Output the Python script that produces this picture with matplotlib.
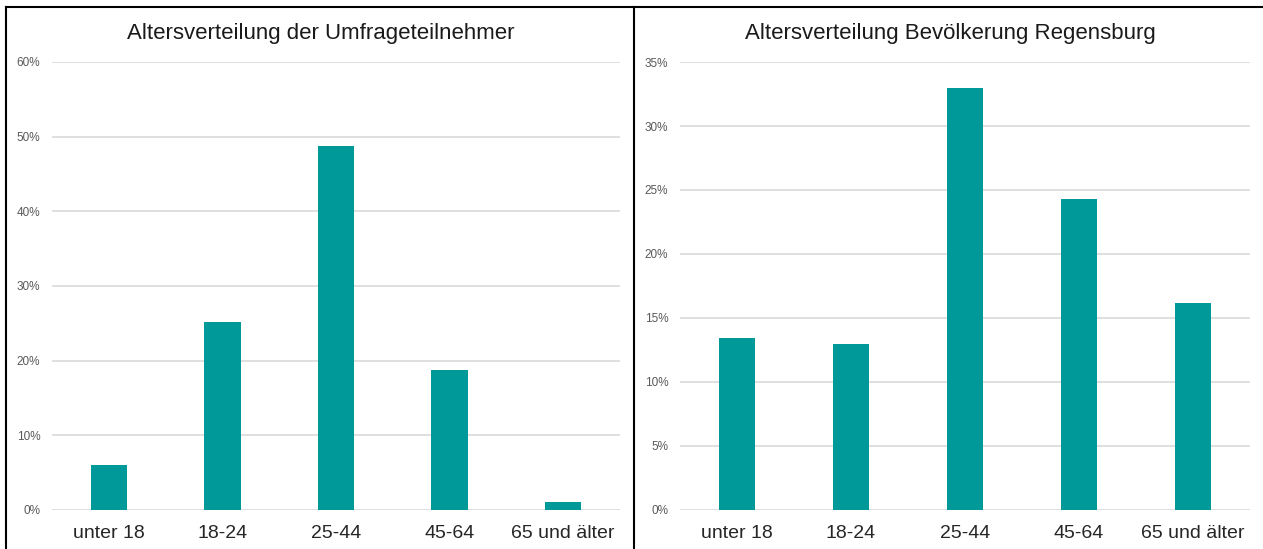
import matplotlib
matplotlib.use("Agg")
import matplotlib.pyplot as plt
from matplotlib.lines import Line2D
from matplotlib.ticker import FuncFormatter

plt.rcParams['font.family'] = ['Liberation Sans', 'DejaVu Sans']

categories = ["unter 18", "18-24", "25-44", "45-64", "65 und älter"]
umfrage = [6.0, 25.2, 48.8, 18.8, 1.1]
regensburg = [13.4, 13.0, 33.0, 24.3, 16.2]

W, H = 1263, 549
BAR = "#009999"
GRID = "#d9d9d9"


def px_axes(fig, x0, x1, y_top, y_bot):
    """ axes from pixel box """
    return fig.add_axes([x0 / W, (H - y_bot) / H, (x1 - x0) / W,
                         (y_bot - y_top) / H])


def draw_panel(ax, values, ymax, step):
    x = range(len(categories))
    ax.bar(x, values, width=0.32, color=BAR, zorder=3)
    ax.set_xlim(-0.5, len(categories) - 0.5)
    ax.set_ylim(0, ymax)
    ax.set_yticks(range(0, ymax + 1, step))
    ax.yaxis.set_major_formatter(FuncFormatter(lambda v, _: f"{v:.0f}%"))
    ax.set_xticks(list(x))
    ax.set_xticklabels(categories)
    ax.grid(axis="y", color=GRID, linewidth=1.2, zorder=0)
    for s in ax.spines.values():
        s.set_visible(False)
    ax.tick_params(axis="y", length=0, pad=8.5, labelsize=8.5,
                   labelcolor="#595959")
    ax.tick_params(axis="x", length=0, pad=11, labelsize=14,
                   labelcolor="#262626")


fig = plt.figure(figsize=(W / 100, H / 100), dpi=100)

ax1 = px_axes(fig, 52, 620, 62, 510)
draw_panel(ax1, umfrage, 60, 10)
ax2 = px_axes(fig, 680, 1250, 62, 510)
draw_panel(ax2, regensburg, 35, 5)

fig.text(321 / W, 1 - 33 / H, "Altersverteilung der Umfrageteilnehmer",
         ha="center", va="center", fontsize=16, color="#1a1a1a")
fig.text(950 / W, 1 - 33 / H, "Altersverteilung Bevölkerung Regensburg",
         ha="center", va="center", fontsize=16, color="#1a1a1a")

# panel borders
for xs, ys in [([6, W], [7, 7]), ([6, 6], [7, H]), ([634, 634], [7, H])]:
    fig.add_artist(Line2D([v / W for v in xs], [1 - v / H for v in ys],
                          color="black", linewidth=1.5,
                          transform=fig.transFigure))

fig.savefig("out.png", dpi=100)
